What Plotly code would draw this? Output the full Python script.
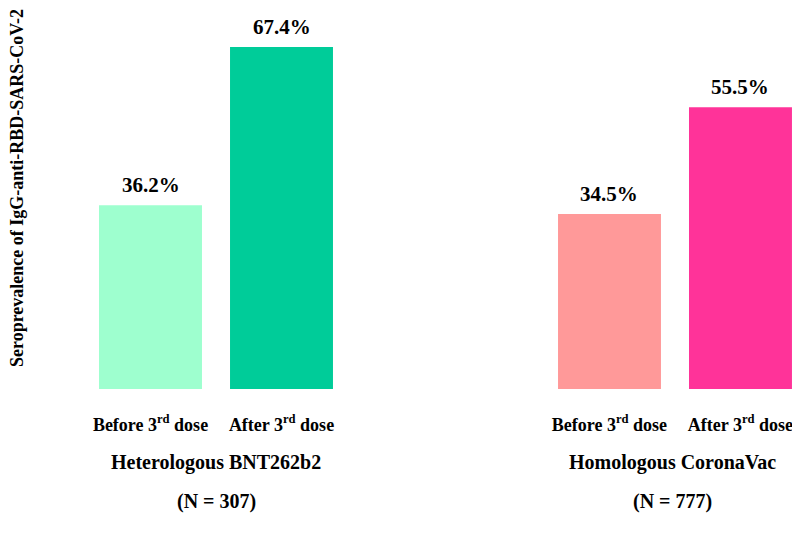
import plotly.graph_objects as go

# ---- data ----
groups = ["Heterologous BNT262b2", "Homologous CoronaVac"]
group_n = ["(N = 307)", "(N = 777)"]
doses = ["Before 3<sup>rd</sup> dose", "After 3<sup>rd</sup> dose"]
hetero_values = [36.2, 67.4]
homo_values = [34.5, 55.5]
hetero_colors = ["#9effcf", "#00cc99"]
homo_colors = ["#ff9999", "#ff3399"]
y_title = "Seroprevalence of IgG-anti-RBD-SARS-CoV-2"

FONT = "Liberation Serif, Times New Roman, serif"

fig = go.Figure()
series = [hetero_values, homo_values]
colors = [hetero_colors, homo_colors]
axes = [("x", "y"), ("x2", "y2")]

for i in range(2):
    xa, ya = axes[i]
    fig.add_trace(go.Bar(
        x=doses, y=series[i], marker=dict(color=colors[i], line=dict(width=0)),
        xaxis=xa, yaxis=ya, showlegend=False, hoverinfo="x+y",
    ))
    for d, v in zip(doses, series[i]):
        fig.add_annotation(
            x=d, y=v, xref=xa, yref=ya, text=f"{v}%", showarrow=False,
            yanchor="bottom", yshift=6,
            font=dict(family=FONT, size=21, color="black", weight="bold"),
        )
    fig.add_annotation(
        x=0.5, y=-0.194, xref=f"{xa} domain", yref="paper", text=groups[i],
        showarrow=False, yanchor="middle",
        font=dict(family=FONT, size=20, color="black", weight="bold"),
    )
    fig.add_annotation(
        x=0.5, y=-0.294, xref=f"{xa} domain", yref="paper", text=group_n[i],
        showarrow=False, yanchor="middle",
        font=dict(family=FONT, size=20, color="black", weight="bold"),
    )

fig.add_annotation(
    x=0.0115, y=0.528, xref="paper", yref="paper", text=y_title, textangle=-90,
    showarrow=False, xanchor="center", yanchor="middle",
    font=dict(family=FONT, size=18, color="black", weight="bold"),
)

xcommon = dict(type="category", showgrid=False, zeroline=False, showline=False,
               ticks="", ticklabelstandoff=23,
               tickfont=dict(family=FONT, size=18, color="black", weight="bold"))
ycommon = dict(range=[0, 75.06], showgrid=False, zeroline=False, showline=False,
               showticklabels=False, ticks="")

fig.update_layout(
    width=800, height=540,
    margin=dict(l=0, r=0, t=0, b=159),
    paper_bgcolor="white", plot_bgcolor="white",
    bargap=0.214,
    xaxis=dict(domain=[0.09625, 0.42375], range=[-0.5, 1.5], anchor="y", **xcommon),
    xaxis2=dict(domain=[0.67, 0.99125], range=[-0.5, 1.462], anchor="y2", **xcommon),
    yaxis=dict(anchor="x", **ycommon),
    yaxis2=dict(anchor="x2", **ycommon),
)

fig.write_html("out.html")
